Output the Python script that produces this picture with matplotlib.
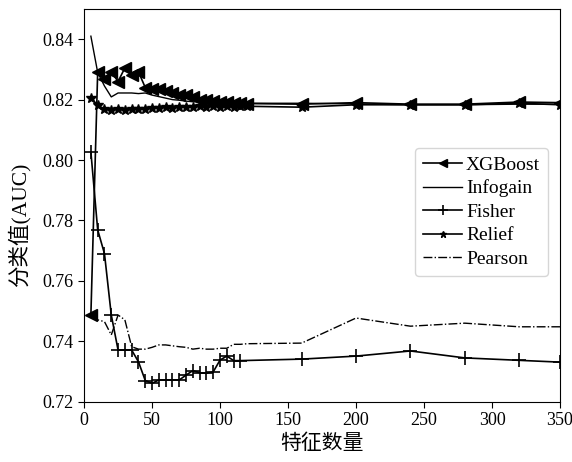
import matplotlib
matplotlib.use("Agg")
import matplotlib.pyplot as plt

plt.rcParams['font.family'] = ['Liberation Serif', 'Noto Sans CJK SC']
plt.rcParams['axes.unicode_minus'] = False

# eje x: numero de caracteristicas
x_all = [5, 10, 15, 20, 25, 30, 35, 40, 45, 50, 55, 60, 65, 70, 75, 80,
         85, 90, 95, 100, 105, 110, 115, 120, 160, 200, 240, 280, 320, 350]
x_fisher = [5, 10, 15, 20, 25, 30, 35, 40, 45, 50, 55, 60, 65, 70, 75, 80,
            85, 90, 95, 100, 105, 110, 115, 160, 200, 240, 280, 320, 350]

xgboost = [0.7487, 0.8292, 0.8268, 0.8292, 0.8260, 0.8305, 0.8280, 0.8292,
           0.8240, 0.8235, 0.8235, 0.8227, 0.8221, 0.8216, 0.8216, 0.8210,
           0.8200, 0.8198, 0.8196, 0.8193, 0.8192, 0.8190, 0.8188, 0.8187,
           0.8185, 0.8190, 0.8185, 0.8185, 0.8192, 0.8190]
infogain = [0.8410, 0.8290, 0.8245, 0.8209, 0.8222, 0.8222, 0.8222, 0.8220,
            0.8222, 0.8215, 0.8210, 0.8205, 0.8200, 0.8198, 0.8195, 0.8193,
            0.8192, 0.8190, 0.8190, 0.8188, 0.8188, 0.8188, 0.8188, 0.8188,
            0.8188, 0.8186, 0.8183, 0.8183, 0.8185, 0.8185]
fisher = [0.8027, 0.7769, 0.7690, 0.7487, 0.7371, 0.7371, 0.7371, 0.7332,
          0.7270, 0.7261, 0.7272, 0.7272, 0.7272, 0.7272, 0.7288, 0.7303,
          0.7296, 0.7294, 0.7299, 0.7338, 0.7351, 0.7336, 0.7336,
          0.7341, 0.7351, 0.7368, 0.7345, 0.7337, 0.7331]
relief = [0.8207, 0.8181, 0.8168, 0.8165, 0.8168, 0.8165, 0.8168, 0.8170,
          0.8170, 0.8172, 0.8172, 0.8175, 0.8173, 0.8177, 0.8175, 0.8177,
          0.8178, 0.8175, 0.8178, 0.8175, 0.8178, 0.8177, 0.8180, 0.8178,
          0.8175, 0.8183, 0.8183, 0.8183, 0.8188, 0.8183]
pearson = [0.7481, 0.7471, 0.7465, 0.7421, 0.7487, 0.7471, 0.7382, 0.7374,
           0.7374, 0.7380, 0.7388, 0.7388, 0.7385, 0.7382, 0.7380, 0.7374,
           0.7377, 0.7374, 0.7374, 0.7377, 0.7377, 0.7390, 0.7390, 0.7392,
           0.7394, 0.7477, 0.7450, 0.7460, 0.7448, 0.7448]

fig = plt.figure(figsize=(5.72, 4.62), dpi=100)
ax = fig.add_axes([0.147, 0.1305, 0.832, 0.85])

ax.plot(x_all, xgboost, color='k', lw=1.2, marker='<', ms=9, label='XGBoost')
ax.plot(x_all, infogain, color='k', lw=1.0, label='Infogain')
ax.plot(x_fisher, fisher, color='k', lw=1.2, marker='+', ms=10, mew=1.2, label='Fisher')
ax.plot(x_all, relief, color='k', lw=1.2, marker='*', ms=7, label='Relief')
ax.plot(x_all, pearson, color='k', lw=1.0, ls='-.', label='Pearson')

ax.set_xlim(0, 350)
ax.set_ylim(0.72, 0.85)
ax.set_xticks([0, 50, 100, 150, 200, 250, 300, 350])
ax.set_yticks([0.72, 0.74, 0.76, 0.78, 0.80, 0.82, 0.84])
ax.set_yticklabels(['0.72', '0.74', '0.76', '0.78', '0.80', '0.82', '0.84'])
ax.tick_params(labelsize=13, direction='out', length=4)

ax.set_xlabel('特征数量', fontsize=15)
ax.set_ylabel('分类值(AUC)', fontsize=15.5)
ax.yaxis.set_label_coords(-0.112, 0.45)

leg = ax.legend(loc='upper right', bbox_to_anchor=(0.995, 0.67), fontsize=14,
                handlelength=2.0, handletextpad=0.2, labelspacing=0.3,
                borderpad=0.4, markerscale=0.7, frameon=True, fancybox=True)
leg.get_frame().set_edgecolor('#cccccc')

fig.savefig('out.png', dpi=100)
